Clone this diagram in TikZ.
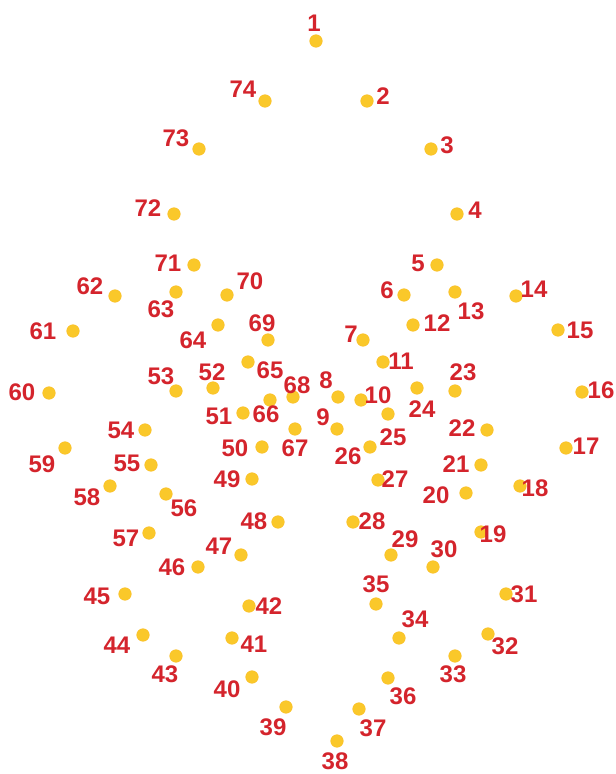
\documentclass[tikz,border=0pt]{standalone}
\usepackage{fontspec}
\setmainfont{Liberation Sans}
\usepackage{tikz}
\definecolor{markred}{RGB}{212,36,44}
\definecolor{dotyellow}{RGB}{250,200,42}
\tikzset{
  landmark/.style={circle, fill=dotyellow, draw=dotyellow!85!orange, line width=0.3pt, inner sep=0pt, minimum size=9.5pt},
  lmlabel/.style={text=markred, inner sep=0pt, font=\fontsize{18}{18}\selectfont\bfseries}
}

\begin{document}
\begin{tikzpicture}[x=0.75pt, y=-0.75pt]
  \useasboundingbox (0,0) rectangle (616,774);

  % === LANDMARKS: number / dot x / dot y / label x / label y ===
  \foreach \n/\x/\y/\lx/\ly in {
      1/316/41/314/23,     2/367/101/383/96,    3/431/149/447/145,   4/457/214/475/210,
      5/437/265/418/263,   6/404/295/387/290,   7/363/340/351/334,   8/338/397/326/380,
      9/337/429/323/417,   10/361/400/378/395,  11/383/362/401/361,  12/413/325/437/323,
      13/455/292/471/311,  14/516/296/534/289,  15/558/330/580/330,  16/582/392/601/390,
      17/566/448/586/446,  18/520/486/535/488,  19/481/532/493/534,  20/466/493/436/495,
      21/481/465/456/464,  22/487/430/462/428,  23/455/391/463/372,  24/417/388/422/409,
      25/388/414/393/437,  26/370/447/348/456,  27/378/480/395/479,  28/353/522/372/521,
      29/391/555/405/539,  30/433/567/444/549,  31/506/594/524/594,  32/488/634/505/646,
      33/455/656/453/674,  34/399/638/415/619,  35/376/604/376/584,  36/388/678/403/696,
      37/359/709/373/728,  38/337/741/335/761,  39/286/707/273/727,  40/252/677/227/689,
      41/232/638/254/644,  42/249/606/269/606,  43/176/656/165/674,  44/143/635/117/645,
      45/125/594/97/596,   46/198/567/172/567,  47/241/555/219/546,  48/278/522/254/521,
      49/252/479/227/479,  50/262/447/235/448,  51/243/413/219/416,  52/213/388/212/372,
      53/176/391/161/376,  54/145/430/121/430,  55/151/465/127/463,  56/166/494/184/508,
      57/149/533/126/538,  58/110/486/87/497,   59/65/448/42/464,    60/49/393/22/392,
      61/73/331/43/331,    62/115/296/90/286,   63/176/292/161/309,  64/218/325/193/340,
      65/248/362/270/370,  66/270/400/266/414,  67/295/429/295/448,  68/293/397/297/385,
      69/268/340/262/323,  70/227/295/250/281,  71/194/265/168/263,  72/174/214/148/208,
      73/199/149/176/138,  74/265/101/243/89}
  {
    \node[landmark] (p\n) at (\x,\y) {};
    \node[lmlabel] (l\n) at (\lx,\ly) {\n};
  }
\end{tikzpicture}
\end{document}
